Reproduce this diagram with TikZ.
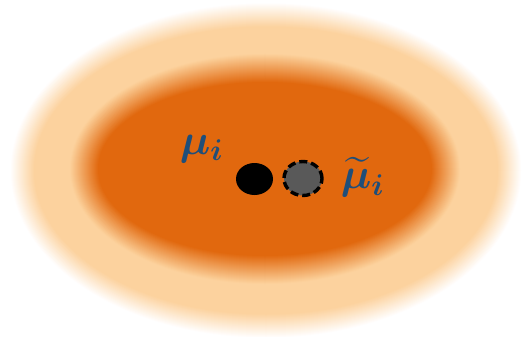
\documentclass[tikz,border=0pt]{standalone}
\usepackage{amsmath,bm}
\usetikzlibrary{shapes.geometric}
\definecolor{peach}{HTML}{FCD09A}
\definecolor{deeporange}{HTML}{E1680E}
\definecolor{labelblue}{HTML}{1F4E79}
\definecolor{dotgray}{HTML}{595959}
\begin{document}
\begin{tikzpicture}[x=1pt,y=-1pt,
  lbl/.style={text=labelblue,inner sep=0pt,font=\Large,scale=3},
  meandot/.style={fill=black,draw=none},
  shifteddot/.style={fill=dotgray,draw=black,line width=3.4pt,dash pattern=on 8pt off 4pt}]
\useasboundingbox (0,0) rectangle (522,337);
\fill[white] (0,0) rectangle (522,337);
% outer blurred halo
\foreach \k in {0,...,24}{
  \pgfmathsetmacro{\d}{12-\k}
  \pgfmathsetmacro{\p}{4*\k}
  \fill[peach!\p!white] (266,170.5) ellipse [x radius={244+\d}, y radius={156+\d}];
}
% inner blurred core
\foreach \k in {0,...,28}{
  \pgfmathsetmacro{\d}{14-\k}
  \pgfmathsetmacro{\p}{100*\k/28}
  \fill[deeporange!\p!peach] (265,169) ellipse [x radius={181+\d}, y radius={101+\d}];
}
\node[meandot,ellipse,minimum width=37pt,minimum height=32pt,inner sep=0pt] (m) at (254.5,179) {};
\node[shifteddot,ellipse,minimum width=38pt,minimum height=34pt,inner sep=0pt] (mt) at (303,178.5) {};
\node[lbl] (lm) at (202,149) {$\bm{\mu}_{\bm{i}}$};
\node[lbl] (lmt) at (363,177) {$\widetilde{\bm{\mu}}_{\bm{i}}$};
\end{tikzpicture}
\end{document}
